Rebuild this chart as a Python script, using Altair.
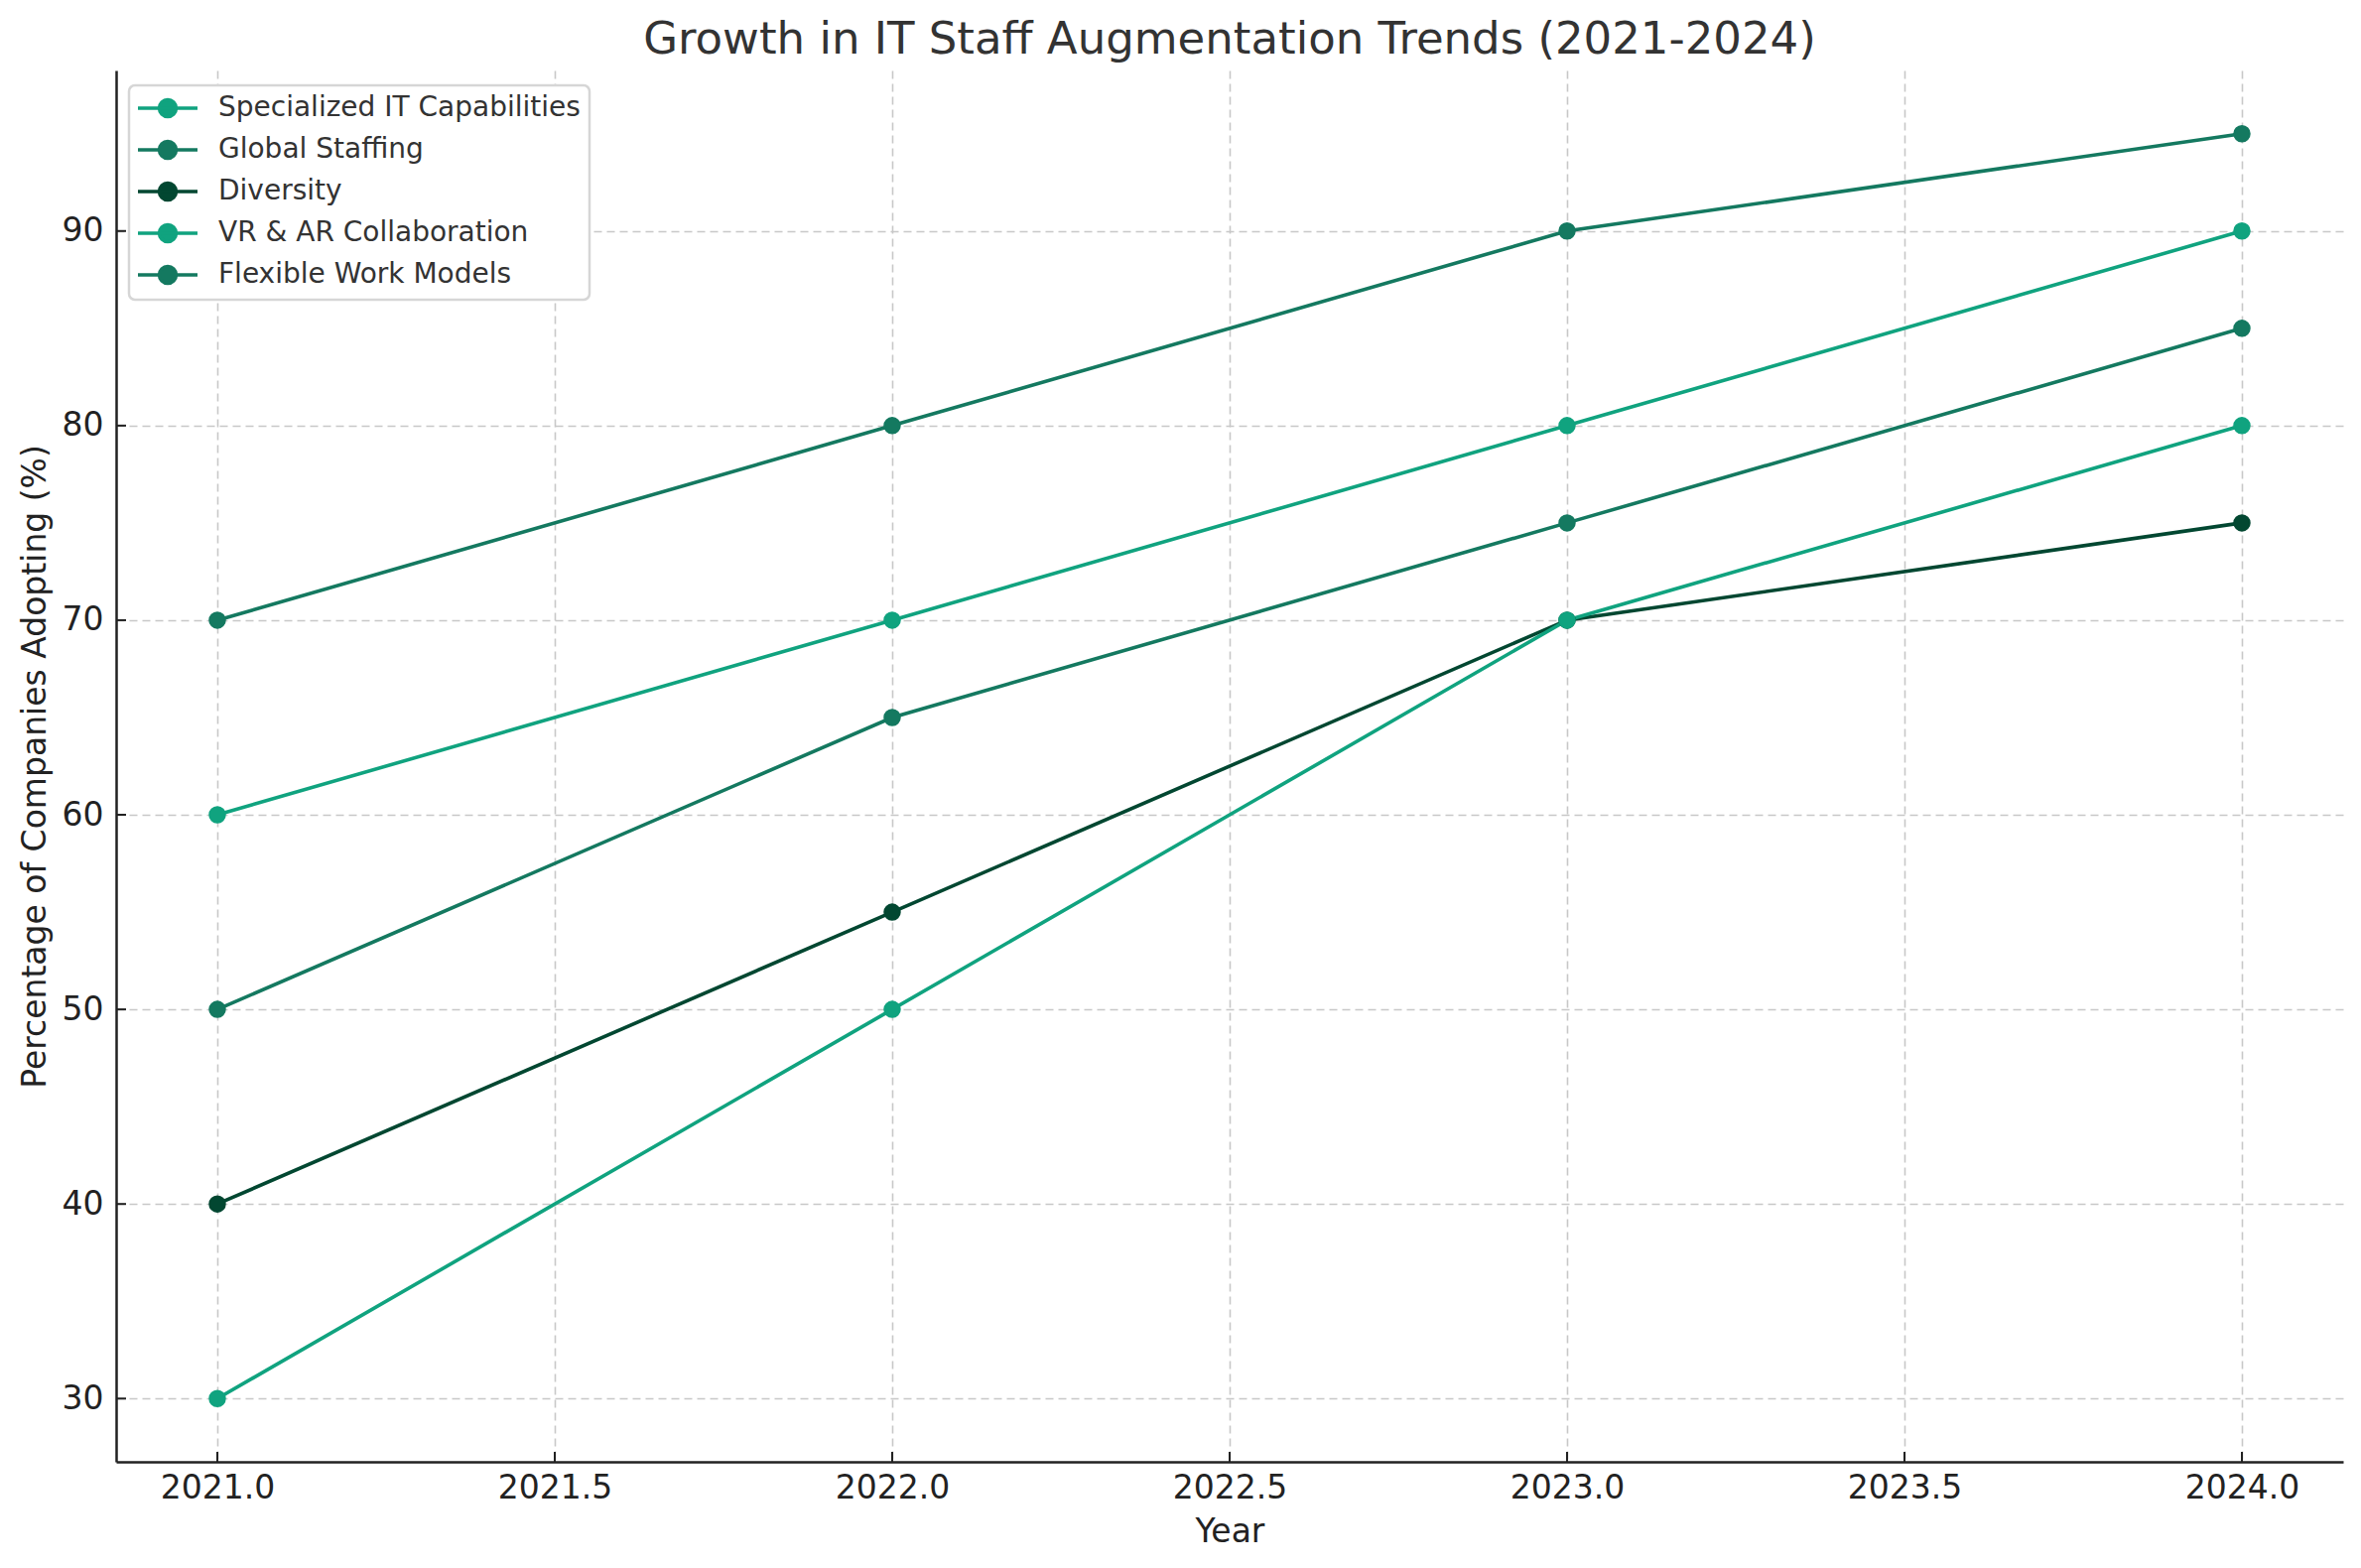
import altair as alt
import pandas as pd

# ---- data ----
years = [2021, 2022, 2023, 2024]
series_names = [
    "Specialized IT Capabilities",
    "Global Staffing",
    "Diversity",
    "VR & AR Collaboration",
    "Flexible Work Models",
]
specialized_it = [30, 50, 70, 80]
global_staffing = [50, 65, 75, 85]
diversity = [40, 55, 70, 75]
vr_ar = [60, 70, 80, 90]
flexible_work = [70, 80, 90, 95]
colors = ["#10a37f", "#147960", "#024731", "#10a37f", "#147960"]
x_ticks = [2021.0, 2021.5, 2022.0, 2022.5, 2023.0, 2023.5, 2024.0]
y_ticks = [30, 40, 50, 60, 70, 80, 90]
x_domain = [2020.85, 2024.15]
y_domain = [26.75, 98.25]

values_by_series = {
    "Specialized IT Capabilities": specialized_it,
    "Global Staffing": global_staffing,
    "Diversity": diversity,
    "VR & AR Collaboration": vr_ar,
    "Flexible Work Models": flexible_work,
}

rows = []
# reversed so the first series is painted last (on top)
for name in reversed(series_names):
    for yr, v in zip(years, values_by_series[name]):
        rows.append({"Year": yr, "Value": v, "Series": name})
df = pd.DataFrame(rows)

W, H = 2244, 1402
FONT = "DejaVu Sans"

xscale = alt.Scale(domain=x_domain, nice=False, zero=False)
yscale = alt.Scale(domain=y_domain, nice=False, zero=False)
cscale = alt.Scale(domain=series_names, range=colors)

R = 12.25  # half of sqrt(symbolSize)
sym_path = (
    f"M{-30/R:.3f},0L{30/R:.3f},0"
    f"M0,{-8.5/R:.3f}A{8.5/R:.3f},{8.5/R:.3f},0,1,1,0,{8.5/R:.3f}"
    f"A{8.5/R:.3f},{8.5/R:.3f},0,1,1,0,{-8.5/R:.3f}Z"
)

legend = alt.Legend(
    title=None,
    orient="none",
    legendX=13,
    legendY=15,
    symbolType=sym_path,
    symbolSize=600,
    symbolStrokeWidth=3.5,
    symbolOffset=16,
    labelOffset=37,
    labelLimit=0,
    labelFont=FONT,
    labelFontSize=28,
    labelColor="#333333",
    strokeColor="#d6d6d6",
    cornerRadius=6,
    fillColor="#ffffff",
)

x_axis = alt.Axis(
    values=x_ticks,
    format=".1f",
    title="Year",
    titleBaseline="alphabetic",
    titleY=80,
    labelPadding=10,
)
y_axis = alt.Axis(
    values=y_ticks,
    format="d",
    title="Percentage of Companies Adopting (%)",
    titleBaseline="alphabetic",
    titleX=-72,
    titleY=H / 2,
    labelPadding=13,
)

base = alt.Chart(df)

lines = base.mark_line(strokeWidth=3.6).encode(
    x=alt.X("Year:Q", scale=xscale, axis=x_axis),
    y=alt.Y("Value:Q", scale=yscale, axis=y_axis),
    stroke=alt.Stroke("Series:N", scale=cscale, legend=legend),
    detail="Series:N",
)

points = base.mark_point(filled=True, size=240, opacity=1, shape="circle").encode(
    x=alt.X("Year:Q", scale=xscale),
    y=alt.Y("Value:Q", scale=yscale),
    fill=alt.Fill("Series:N", scale=cscale, legend=legend),
    stroke=alt.Stroke("Series:N", scale=cscale, legend=legend),
)

xt = pd.DataFrame({"t": x_ticks})
yt = pd.DataFrame({"t": y_ticks})
xtick_marks = alt.Chart(xt).mark_rule(color="#222222", strokeWidth=2).encode(
    x=alt.X("t:Q", scale=xscale),
    y=alt.value(H),
    y2=alt.value(H - 10),
)
ytick_marks = alt.Chart(yt).mark_rule(color="#222222", strokeWidth=2).encode(
    y=alt.Y("t:Q", scale=yscale),
    x=alt.value(0),
    x2=alt.value(10),
)

chart = (
    alt.layer(lines, points, xtick_marks, ytick_marks)
    .properties(
        width=W,
        height=H,
        autosize=alt.AutoSizeParams(type="none"),
        padding={"left": 109, "top": 63, "right": 6, "bottom": 95},
        title=alt.Title(
            "Growth in IT Staff Augmentation Trends (2021-2024)",
            font=FONT,
            fontSize=45,
            fontWeight="normal",
            color="#333333",
            anchor="middle",
            offset=8,
        ),
    )
    .configure_view(strokeWidth=0)
    .configure_legend(
        padding=9,
        rowPadding=10,
        strokeWidth=2.5,
    )
    .configure_axis(
        labelFont=FONT,
        labelFontSize=33,
        labelColor="#222222",
        titleFont=FONT,
        titleFontSize=33,
        titleFontWeight="normal",
        titleColor="#222222",
        domainColor="#222222",
        domainWidth=2.5,
        ticks=False,
        grid=True,
        gridColor="#c8c8c8",
        gridDash=[8, 5],
        gridWidth=1.6,
    )
)

chart.save("out.html", embed_options={"renderer": "svg", "actions": False})
